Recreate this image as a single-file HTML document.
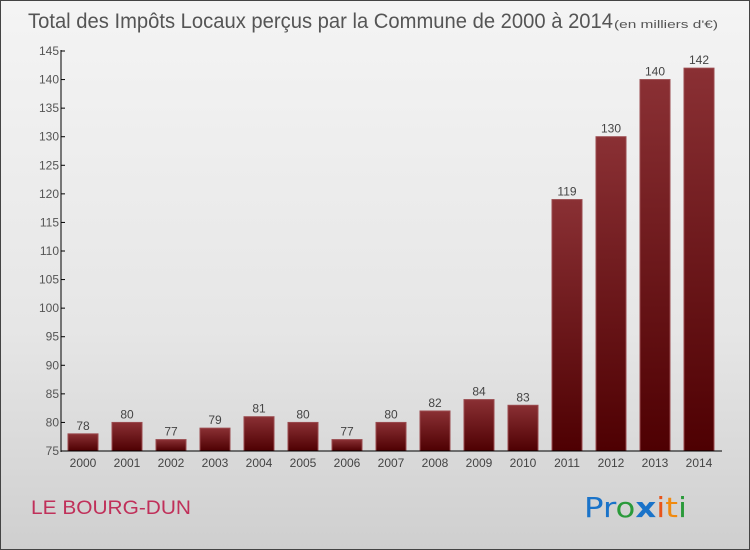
<!DOCTYPE html>
<html><head><meta charset="utf-8"><style>
body{margin:0}
#c{width:748px;height:548px;border:1px solid #444;background:linear-gradient(#f4f4f4,#e6e6e6 60%,#cfcfcf);position:relative;font-family:"Liberation Sans",sans-serif;overflow:hidden}
svg{position:absolute;left:0;top:0}
</style></head><body>
<div id="c">
<svg id="s" width="750" height="550">
<defs><linearGradient id="g" x1="0" y1="0" x2="0" y2="1"><stop offset="0" stop-color="#8a3034"/><stop offset="1" stop-color="#4e0002"/></linearGradient></defs>
<text x="27" y="27" font-size="21" fill="#555" textLength="585" lengthAdjust="spacingAndGlyphs">Total des Impôts Locaux perçus par la Commune de 2000 à 2014</text>
<text x="613" y="27" font-size="11" fill="#555" textLength="104" lengthAdjust="spacingAndGlyphs">(en milliers d'€)</text>
<text x="30" y="513" font-size="19" fill="#c0305a" textLength="160" lengthAdjust="spacingAndGlyphs">LE BOURG-DUN</text>
<text x="583" y="516" font-size="28" font-family="'DejaVu Sans',sans-serif" textLength="103" lengthAdjust="spacingAndGlyphs"><tspan fill="#1a73c9">Pr</tspan><tspan fill="#2a9a3a">o</tspan><tspan fill="#1a73c9" font-weight="bold">x</tspan><tspan fill="#e8541a">i</tspan><tspan fill="#f08a10">t</tspan><tspan fill="#2a9a3a">i</tspan></text>
</svg>
</div>
<script>
const years=["2000","2001","2002","2003","2004","2005","2006","2007","2008","2009","2010","2011","2012","2013","2014"];
const values=[78,80,77,79,81,80,77,80,82,84,83,119,130,140,142];
const yTicks=[75,80,85,90,95,100,105,110,115,120,125,130,135,140,145];
const s=document.getElementById('s');const NS='http://www.w3.org/2000/svg';
const y=v=>450-(v-75)*400/70;const x=i=>82+i*44;
function el(t,a,p){const e=document.createElementNS(NS,t);for(const k in a)e.setAttribute(k,a[k]);(p||s).appendChild(e);return e;}
values.forEach((v,i)=>{
const r=el('rect',{x:x(i)-15,y:y(v),width:30,height:450-y(v),fill:'url(#g)',stroke:'#9a4a4e','stroke-width':1});


const t=el('text',{x:x(i),y:y(v)-4,'text-anchor':'middle','font-size':12,fill:'#444'});t.textContent=v;


const xl=el('text',{x:x(i),y:466,'text-anchor':'middle','font-size':12,fill:'#444'});xl.textContent=years[i];


});
yTicks.forEach(v=>{
const l=el('line',{x1:60,x2:64,y1:y(v),y2:y(v),stroke:'#000'});


const t=el('text',{x:58,y:y(v)+4,'text-anchor':'end','font-size':12,fill:'#555'});t.textContent=v;


});
const ya=el('line',{x1:60,x2:60,y1:49,y2:451,stroke:'#000'});


const xa=el('line',{x1:60,x2:721,y1:450,y2:450,stroke:'#000'});


</script>
</body></html>
